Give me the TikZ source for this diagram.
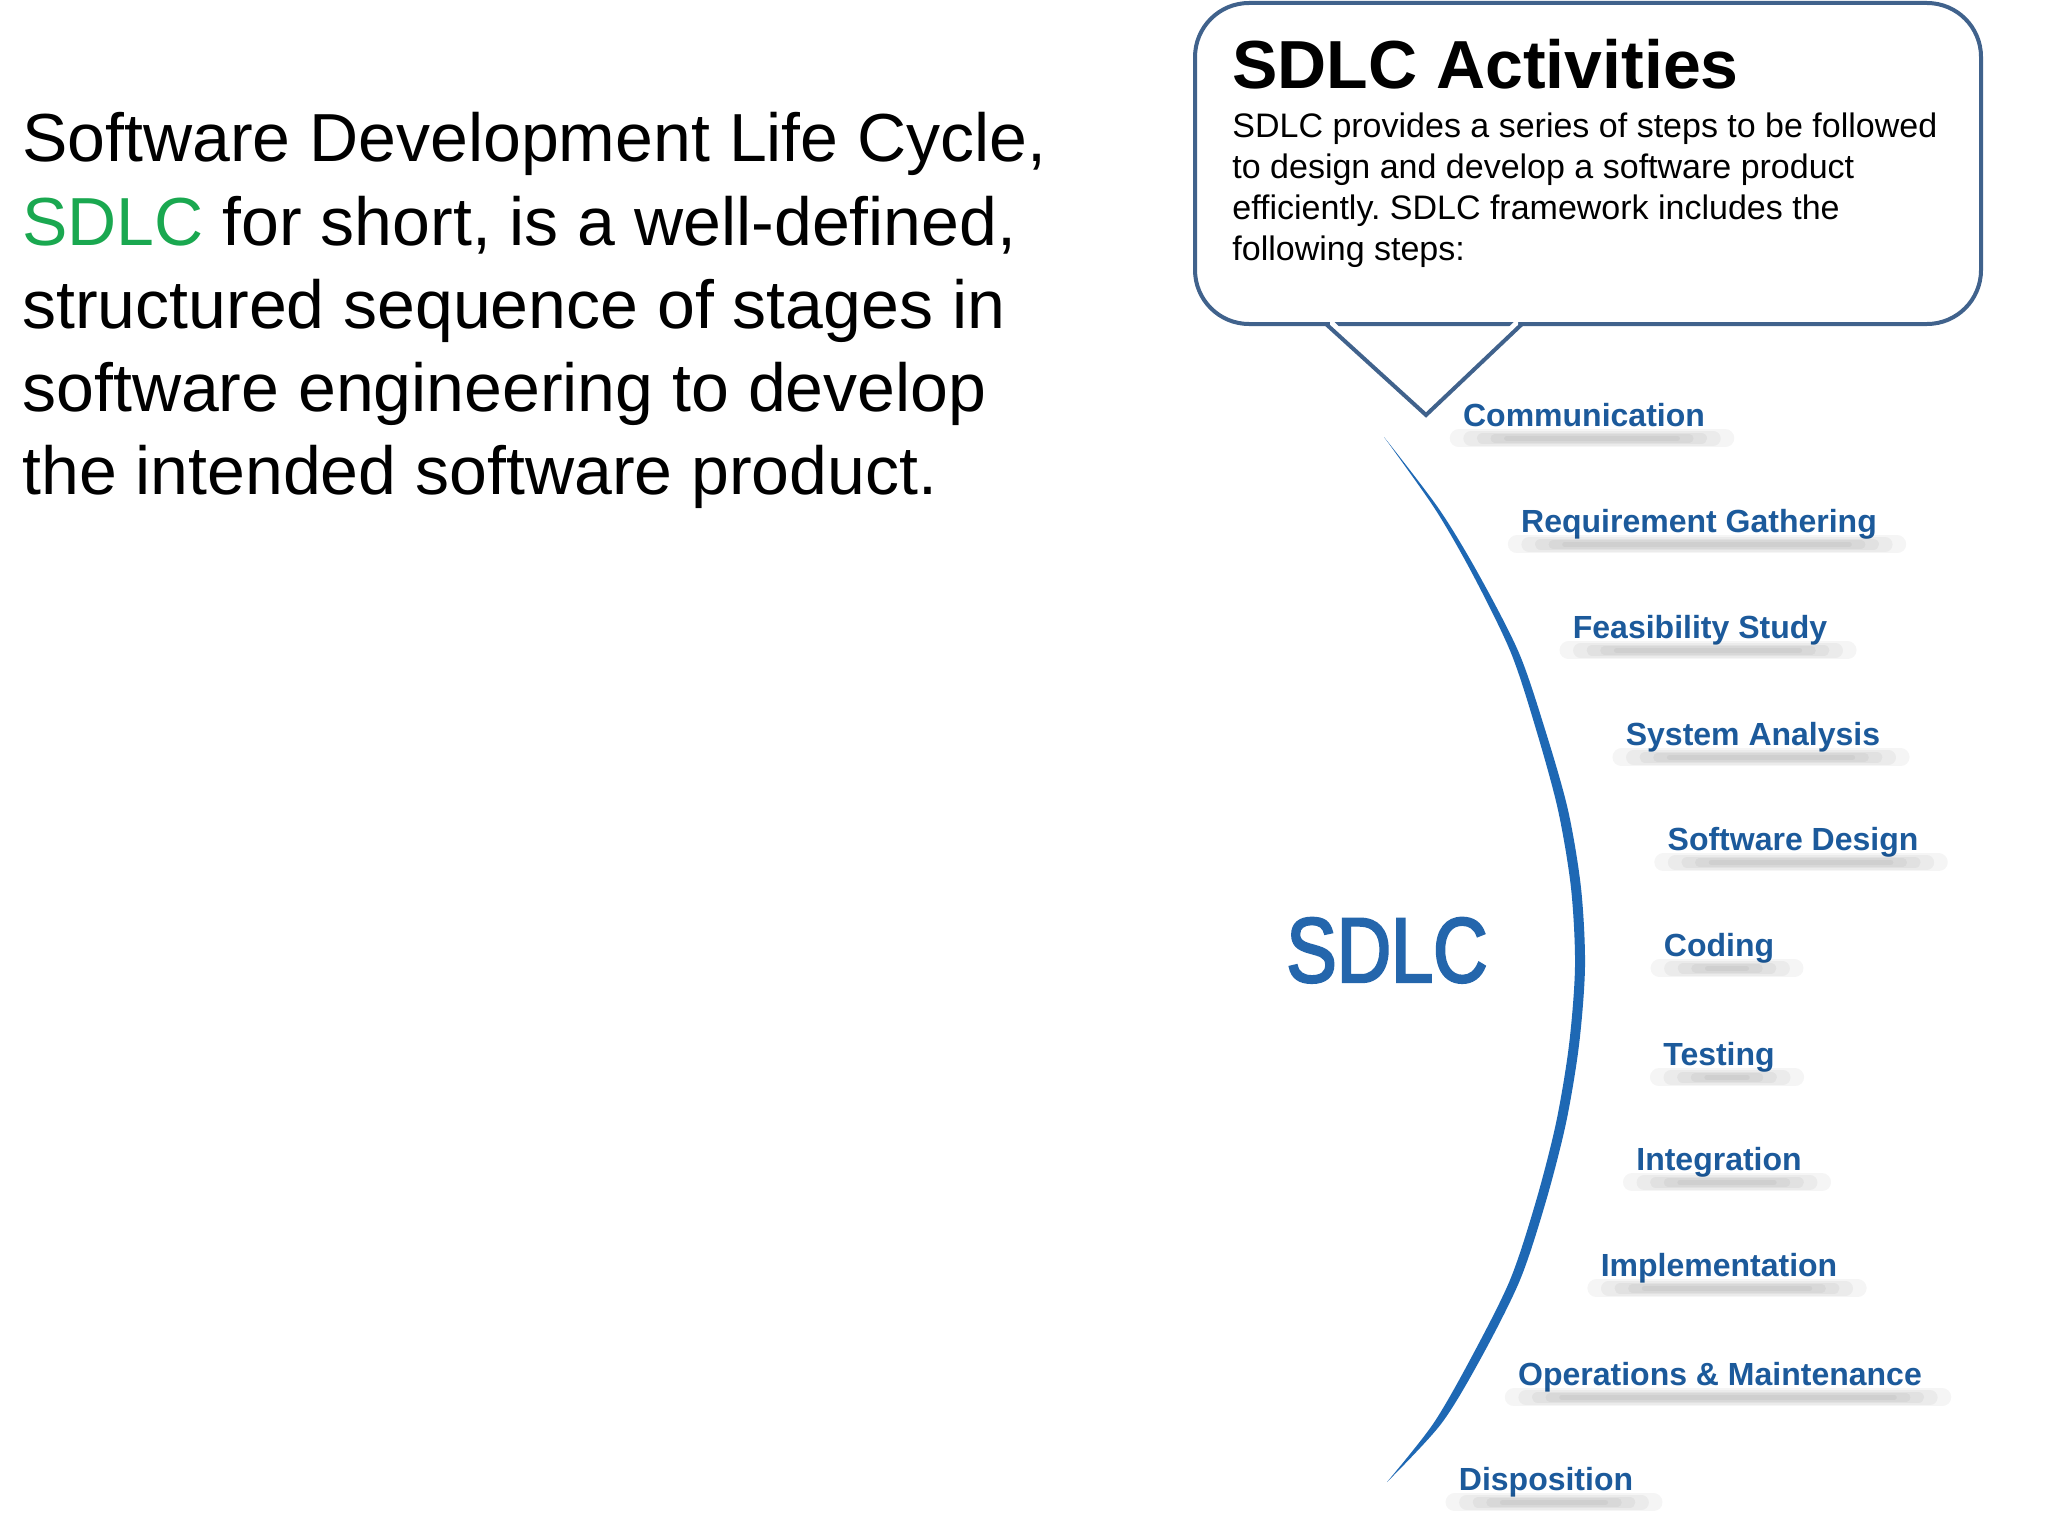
\documentclass[tikz,border=0pt]{standalone}
\usepackage{fontspec}
\setmainfont{Liberation Sans}
\newfontfamily\bigsdlc[FakeStretch=0.82,FakeBold=2.5]{Liberation Sans}
\definecolor{sdlcgreen}{RGB}{26,168,80}
\definecolor{calloutline}{RGB}{64,98,140}
\definecolor{labelblue}{RGB}{28,90,155}
\definecolor{arcblue}{RGB}{30,104,180}
\definecolor{bigblue}{RGB}{36,102,172}
\frenchspacing
\begin{document}
\begin{tikzpicture}[x=0.5pt,y=-0.5pt,
  para/.style={anchor=base west, inner sep=0pt, font=\fontsize{34}{40}\selectfont},
  titletext/.style={anchor=base west, inner sep=0pt, font=\fontsize{34}{38}\selectfont\bfseries},
  bodytext/.style={anchor=base west, inner sep=0pt, font=\fontsize{17}{20}\selectfont},
  stage/.style={anchor=base, inner sep=0pt, text height=0.72em, text depth=0.25em,
    text=labelblue, font=\fontsize{16}{19}\selectfont\bfseries},
  callout/.style={draw=calloutline, line width=2pt},
  shadowline/.style={draw=black, opacity=0.04, line cap=round}]
\fill[white] (0,0) rectangle (2048,1536);
\useasboundingbox (0,0) rectangle (2048,1536);

% left paragraph
\node[para] (p1) at (22,162) {Software Development Life Cycle,};
\node[para] (p2) at (22,245) {\textcolor{sdlcgreen}{SDLC} for short, is a well-defined,};
\node[para] (p3) at (22,328) {structured sequence of stages in};
\node[para] (p4) at (22,411) {software engineering to develop};
\node[para] (p5) at (22,494) {the intended software product.};

% callout
\draw[callout, rounded corners=27pt] (1195,3) rectangle (1981,324);
\fill[white] (1330,318) -- (1426,409) -- (1518,318) -- (1518,330) -- (1330,330) -- cycle;
\draw[callout, line join=miter] (1326,324) -- (1426,415) -- (1522,324);
\node[titletext] (title) at (1232,89) {SDLC Activities};
\node[bodytext] (b1) at (1232,137) {SDLC provides a series of steps to be followed};
\node[bodytext] (b2) at (1232,178) {to design and develop a software product};
\node[bodytext] (b3) at (1232,219) {efficiently. SDLC framework includes the};
\node[bodytext] (b4) at (1232,260) {following steps:};

% stage labels
\node[stage] (s1)  at (1584,426)  {Communication};
\node[stage] (s2)  at (1699,532)  {Requirement Gathering};
\node[stage] (s3)  at (1700,638)  {Feasibility Study};
\node[stage] (s4)  at (1753,745)  {System Analysis};
\node[stage] (s5)  at (1793,850)  {Software Design};
\node[stage] (s6)  at (1719,956)  {Coding};
\node[stage] (s7)  at (1719,1065) {Testing};
\node[stage] (s8)  at (1719,1170) {Integration};
\node[stage] (s9)  at (1719,1276) {Implementation};
\node[stage] (s10) at (1720,1385) {Operations \& Maintenance};
\node[stage] (s11) at (1546,1490) {Disposition};

% soft shadows under labels
\foreach \lab in {s1,s2,s3,s4,s5,s6,s7,s8,s9,s10,s11}{
  \foreach \k in {0,...,4}{
    \draw[shadowline, line width={(9-1.6*\k)*1pt}]
      ([xshift={\k*6pt-2pt}, yshift=-3.5pt]\lab.south west) --
      ([xshift={10pt-\k*6pt}, yshift=-3.5pt]\lab.south east);
  }
}

% arc
\fill[arcblue] plot[smooth] coordinates {(1384,437) (1439,509) (1479,575) (1519,653) (1545.5,731) (1568,810) (1581,888) (1585,966) (1579,1045) (1566,1123) (1546,1201) (1520,1280) (1481,1358) (1441,1424) (1387,1482)}
  -- plot[smooth] coordinates {(1387,1482) (1433,1424) (1471,1358) (1510,1280) (1536,1201) (1556,1123) (1569,1045) (1575,966) (1571,888) (1558,810) (1536.5,731) (1511,653) (1473,575) (1435,509) (1384,437)} -- cycle;

% big SDLC
\node[anchor=base, inner sep=0pt, text=bigblue, font=\fontsize{46}{50}\bigsdlc] (big) at (1387,982) {SDLC};
\end{tikzpicture}
\end{document}
